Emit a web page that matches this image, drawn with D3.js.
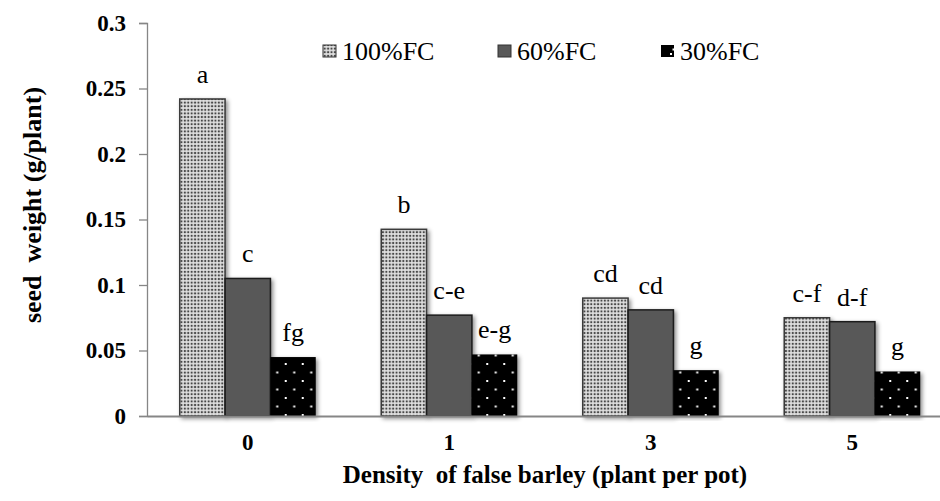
<!DOCTYPE html>
<html>
<head>
<meta charset="utf-8">
<script src="https://cdn.jsdelivr.net/npm/d3@7"></script>
<style>
  html, body { margin: 0; padding: 0; background: #fff; }
  svg { display: block; }
  svg text { font-family: "Liberation Serif", "Times New Roman", serif !important; fill: #000; }
  .pre { white-space: pre; }
</style>
</head>
<body>
<svg id="chart" width="940" height="501"></svg>
<script>
// ---- data ----
const categories = ["0", "1", "3", "5"];
const seriesNames = ["100%FC", "60%FC", "30%FC"];
const fc100 = [0.242, 0.1425, 0.090, 0.075];
const fc60 = [0.105, 0.077, 0.081, 0.072];
const fc30 = [0.045, 0.047, 0.035, 0.034];
const letters100 = ["a", "b", "cd", "c-f"];
const letters60 = ["c", "c-e", "cd", "d-f"];
const letters30 = ["fg", "e-g", "g", "g"];
const yTickValues = [0, 0.05, 0.1, 0.15, 0.2, 0.25, 0.3];
const yTickLabels = ["0", "0.05", "0.1", "0.15", "0.2", "0.25", "0.3"];
const xTitle = "Density  of false barley (plant per pot)";
const yTitle = "seed  weight (g/plant)";

const seriesValues = [fc100, fc60, fc30];
const seriesLetters = [letters100, letters60, letters30];

const SERIF = '"Liberation Serif", "Times New Roman", serif';

// ---- layout ----
const svg = d3.select("#chart");
const plotLeft = 147, plotRight = 953, plotTop = 23, plotBottom = 416;

const x0 = d3.scaleBand().domain(categories).range([plotLeft, plotRight])
  .paddingInner(0.325).paddingOuter(0.1625);
const x1 = d3.scaleBand().domain(seriesNames).range([0, x0.bandwidth()]).padding(0);
const y = d3.scaleLinear().domain([0, 0.3]).range([plotBottom, plotTop]);

// ---- defs: patterns & shadow ----
const defs = svg.append("defs");
const p1 = defs.append("pattern").attr("id", "pat100").attr("patternUnits", "userSpaceOnUse")
  .attr("width", 3.4).attr("height", 3.6);
p1.append("rect").attr("width", 3.4).attr("height", 3.6).attr("fill", "#e2e2e2");
p1.append("rect").attr("x", 0.7).attr("y", 0.8).attr("width", 2).attr("height", 2).attr("fill", "#474747");

const p3 = defs.append("pattern").attr("id", "pat30").attr("patternUnits", "userSpaceOnUse")
  .attr("width", 17).attr("height", 17);
p3.append("rect").attr("width", 17).attr("height", 17).attr("fill", "#000");
p3.append("rect").attr("x", 3).attr("y", 6).attr("width", 2).attr("height", 2).attr("fill", "#fff");
p3.append("rect").attr("x", 11.5).attr("y", 14.5).attr("width", 2).attr("height", 2).attr("fill", "#fff");

const f = defs.append("filter").attr("id", "shadow").attr("x", "-30%").attr("y", "-10%")
  .attr("width", "160%").attr("height", "120%");
f.append("feDropShadow").attr("dx", 2).attr("dy", 2).attr("stdDeviation", 2)
  .attr("flood-color", "#000").attr("flood-opacity", 0.45);

const fills = ["url(#pat100)", "#595959", "url(#pat30)"];
const strokes = ["#3a3a3a", "#1a1a1a", "none"];

// ---- y axis ----
const yAxis = d3.axisLeft(y).tickValues(yTickValues)
  .tickFormat((d, i) => yTickLabels[i]).tickSize(8).tickPadding(13);
const gy = svg.append("g").attr("transform", `translate(${plotLeft},0)`).call(yAxis);
gy.attr("font-family", SERIF);
gy.select(".domain").attr("stroke", "#868686").attr("stroke-width", 1.3);
gy.selectAll(".tick line").attr("stroke", "#868686").attr("stroke-width", 1.3);
gy.selectAll(".tick text").attr("font-family", SERIF)
  .attr("font-weight", "bold").attr("font-size", 23).attr("fill", "#000");

// ---- bars ----
const groups = svg.append("g").selectAll("g").data(categories).join("g")
  .attr("transform", d => `translate(${x0(d)},0)`);

seriesNames.forEach((s, si) => {
  groups.append("rect")
    .attr("x", x1(s))
    .attr("y", (d, i) => y(seriesValues[si][i]))
    .attr("width", x1.bandwidth())
    .attr("height", (d, i) => y(0) - y(seriesValues[si][i]))
    .attr("fill", fills[si])
    .attr("stroke", strokes[si])
    .attr("stroke-width", 1.5)
    .attr("filter", "url(#shadow)");
});

// letters
seriesNames.forEach((s, si) => {
  groups.append("text")
    .attr("x", x1(s) + x1.bandwidth() / 2)
    .attr("y", (d, i) => y(seriesValues[si][i]) - 16)
    .attr("text-anchor", "middle")
    .attr("font-family", SERIF)
    .attr("font-size", 26)
    .text((d, i) => seriesLetters[si][i]);
});

// ---- x axis ----
const xAxis = d3.axisBottom(x0).tickSize(0).tickPadding(18);
const gx = svg.append("g").attr("transform", `translate(0,${plotBottom})`).call(xAxis);
gx.attr("font-family", SERIF);
gx.select(".domain").attr("stroke", "#868686").attr("stroke-width", 2);
gx.selectAll(".tick text").attr("font-family", SERIF)
  .attr("font-weight", "bold").attr("font-size", 23).attr("fill", "#000");

// ---- titles ----
svg.append("text").attr("class", "pre").attr("x", 545).attr("y", 483).attr("text-anchor", "middle")
  .attr("font-family", SERIF)
  .attr("font-weight", "bold").attr("font-size", 25).text(xTitle);
svg.append("text").attr("class", "pre").attr("transform", "translate(41,205) rotate(-90)")
  .attr("font-family", SERIF)
  .attr("text-anchor", "middle").attr("font-weight", "bold").attr("font-size", 26).text(yTitle);

// ---- legend ----
const legendX = [323, 498, 661];
const lg = svg.append("g").selectAll("g").data(seriesNames).join("g")
  .attr("transform", (d, i) => `translate(${legendX[i]},0)`);
lg.append("rect").attr("x", 0).attr("y", 45).attr("width", 13).attr("height", 12)
  .attr("fill", (d, i) => fills[i])
  .attr("stroke", (d, i) => i === 2 ? "none" : "#333").attr("stroke-width", 1);
lg.filter((d, i) => i === 2).append("rect").attr("x", 9).attr("y", 53)
  .attr("width", 2).attr("height", 2).attr("fill", "#fff");
lg.append("text").attr("x", 19).attr("y", 60).attr("font-family", SERIF)
  .attr("font-size", 26).text(d => d);
</script>
</body>
</html>
